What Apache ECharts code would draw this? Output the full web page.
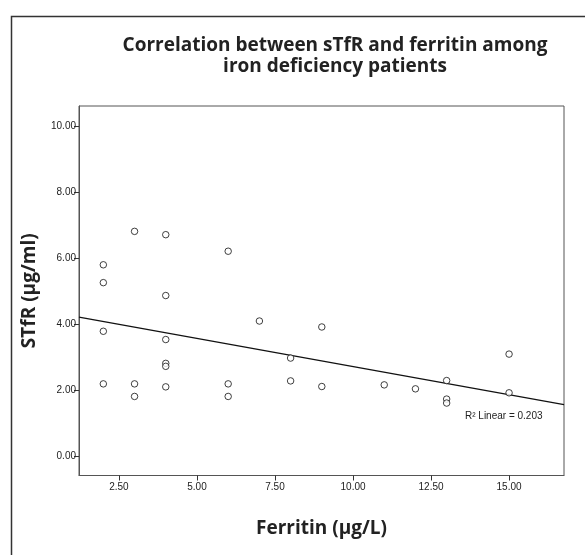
<!DOCTYPE html>
<html>
<head>
<meta charset="utf-8">
<title>sTfR vs ferritin</title>
<script src="https://cdn.jsdelivr.net/npm/echarts@6/dist/echarts.min.js"></script>
<style>
  html, body { margin: 0; padding: 0; background: #fff; }
  #chart { width: 585px; height: 555px; }
</style>
</head>
<body>
<div id="chart"></div>
<script>
// values
const ferritin = [2, 2, 2, 2, 3, 3, 3, 4, 4, 4, 4, 4, 4, 6, 6, 6, 7, 8, 8, 9, 9, 11, 12, 13, 13, 13, 15, 15]
const stfr = [5.80, 5.26, 3.79, 2.20, 6.81, 2.20, 1.82, 6.71, 4.87, 3.54, 2.82, 2.73, 2.11,
  6.21, 2.20, 1.82, 4.10, 2.98, 2.29, 3.92, 2.12, 2.17, 2.05, 2.30, 1.74, 1.62, 3.10, 1.93]
const xTicks = [2.5, 5, 7.5, 10, 12.5, 15]
const yTicks = [0, 2, 4, 6, 8, 10]
const fitLabel = 'R² Linear = 0.203'

const xMin = 1.22, xMax = 16.76
const yMin = -0.57, yMax = 10.6

// least squares fit of the points
const n = ferritin.length
const mx = ferritin.reduce((a, b) => a + b, 0) / n
const my = stfr.reduce((a, b) => a + b, 0) / n
let sxy = 0, sxx = 0
for (let i = 0; i < n; i++) {
  sxy += (ferritin[i] - mx) * (stfr[i] - my)
  sxx += (ferritin[i] - mx) ** 2
}
const slope = sxy / sxx
const intercept = my - slope * mx

const chart = echarts.init(document.getElementById('chart'))
const tickFont = { fontFamily: 'Liberation Sans', fontSize: 10, color: '#222' }
const boldFont = { fontFamily: 'Open Sans', fontWeight: 'bold', fontSize: 19, color: '#222' }

chart.setOption({
  backgroundColor: '#fff',
  animation: false,
  title: {
    text: 'Correlation between sTfR and ferritin among\niron deficiency patients',
    left: 330,
    top: 30,
    textAlign: 'center',
    textStyle: Object.assign({}, boldFont, { lineHeight: 21 })
  },
  grid: {
    left: 79, right: 21, top: 106, bottom: 79.5,
    show: true, borderColor: '#555', borderWidth: 1
  },
  xAxis: {
    type: 'value', min: xMin, max: xMax,
    name: 'Ferritin (µg/L)', nameLocation: 'middle', nameGap: 44,
    nameTextStyle: boldFont,
    axisLine: { show: true, onZero: false, lineStyle: { color: '#555' } },
    axisTick: { show: true, length: 5, customValues: xTicks, lineStyle: { color: '#333' } },
    axisLabel: Object.assign({ customValues: xTicks, margin: 7, formatter: v => v.toFixed(2) }, tickFont),
    splitLine: { show: false }
  },
  yAxis: {
    type: 'value', min: yMin, max: yMax,
    name: 'STfR (µg/ml)', nameLocation: 'middle', nameGap: 40,
    nameTextStyle: boldFont,
    axisLine: { show: true, onZero: false, lineStyle: { color: '#555' } },
    axisTick: { show: true, length: 5, customValues: yTicks, lineStyle: { color: '#333' } },
    axisLabel: Object.assign({ customValues: yTicks, margin: 3, formatter: v => v.toFixed(2) }, tickFont),
    splitLine: { show: false }
  },
  series: [
    {
      type: 'line',
      data: [[xMin, intercept + slope * xMin], [xMax, intercept + slope * xMax]],
      showSymbol: false,
      lineStyle: { color: '#111', width: 1.2 },
      z: 1
    },
    {
      type: 'scatter',
      data: ferritin.map((x, i) => [x, stfr[i]]),
      symbol: 'circle',
      symbolSize: 6.5,
      itemStyle: { color: '#fff', borderColor: '#111', borderWidth: 1 },
      z: 2
    }
  ],
  graphic: [
    {
      type: 'rect', left: 9, top: 14, silent: true,
      shape: { width: 620, height: 600 },
      style: { fill: 'none', stroke: '#333', lineWidth: 1.5 }
    },
    {
      type: 'text', left: 465, top: 411,
      style: { text: fitLabel, font: '10px "Liberation Sans"', fill: '#222' }
    }
  ]
})
</script>
</body>
</html>
